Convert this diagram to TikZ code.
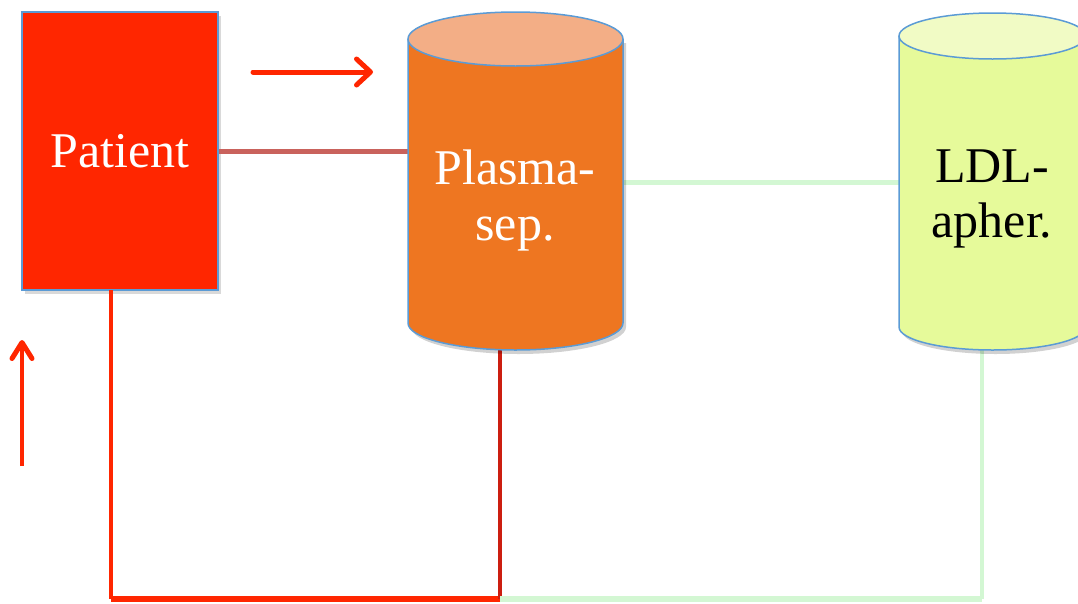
\documentclass[tikz,border=0pt]{standalone}
\usepackage{fontspec}
\setmainfont{Liberation Serif}
\usetikzlibrary{arrows.meta,shadows}
\definecolor{patred}{HTML}{FF2600}
\definecolor{bordblue}{HTML}{5B9BD5}
\definecolor{psbody}{HTML}{EE7621}
\definecolor{pstop}{HTML}{F3AE86}
\definecolor{ldlbody}{HTML}{E6FA9A}
\definecolor{ldltop}{HTML}{F1FBC5}
\definecolor{linkred}{HTML}{C9625C}
\definecolor{linkgreen}{HTML}{D3F7D3}
\definecolor{darkred}{HTML}{CC1E10}
\tikzset{
  bigtext/.style={font=\fontsize{50}{56}\selectfont},
  outline/.style={draw=bordblue, line width=1.5},
  shade/.style={fill=black, opacity=0.18},
  flowarrow/.style={draw=patred, line width=5},
}
\begin{document}
\begin{tikzpicture}[x=1pt,y=-1pt]
\useasboundingbox (0,0) rectangle (1078,603);
\coordinate (psL) at (408,151);
\coordinate (psR) at (623,182);
\coordinate (psB) at (500,349);
\coordinate (ldlL) at (899,182);
\coordinate (ldlB) at (982,349);
\coordinate (patB) at (111,290);
\coordinate (cornerL) at (111,599);
\coordinate (mid) at (500,599);
\coordinate (cornerR) at (982,599);

% Patient box
\node[rectangle, fill=patred, outline, minimum width=196, minimum height=278,
      drop shadow={shadow xshift=3pt, shadow yshift=-4pt, opacity=0.3},
      bigtext, text=white, inner sep=0] (pat) at (120,151) {Patient};

% lines
\draw[linkred, line width=5] (pat.east |- psL) -- (psL);
\draw[linkgreen, line width=5] (psR) -- (ldlL);
\draw[patred, line width=3.5] (patB) -- (cornerL);
\draw[patred, line width=6] (cornerL) -- (mid);
\draw[darkred, line width=4] (psB) -- (mid);
\draw[linkgreen, line width=6] (mid) -- (cornerR);
\draw[linkgreen, line width=4] (cornerR) -- (ldlB);

% Plasma cylinder
\fill[shade] (411,43) -- (411,327) arc[start angle=180, end angle=0, x radius=107.5, y radius=27] -- (626,43) -- cycle;
\fill[psbody] (408,39) -- (408,323) arc[start angle=180, end angle=0, x radius=107.5, y radius=27] -- (623,39) -- cycle;
\draw[outline] (408,39) -- (408,323) arc[start angle=180, end angle=0, x radius=107.5, y radius=27] -- (623,39);
\filldraw[fill=pstop, outline] (515.5,39) ellipse[x radius=107.5, y radius=27];
\node[anchor=base, bigtext, text=white] (ps1) at (515,184) {Plasma-};
\node[anchor=base, bigtext, text=white] (ps2) at (515,240) {sep.};

% LDL cylinder
\fill[shade] (902,40) -- (902,331) arc[start angle=180, end angle=0, x radius=93.5, y radius=23] -- (1089,40) -- cycle;
\fill[ldlbody] (899,36) -- (899,327) arc[start angle=180, end angle=0, x radius=93.5, y radius=23] -- (1086,36) -- cycle;
\draw[outline] (899,36) -- (899,327) arc[start angle=180, end angle=0, x radius=93.5, y radius=23] -- (1086,36);
\filldraw[fill=ldltop, outline] (992.5,36) ellipse[x radius=93.5, y radius=23];
\node[anchor=base, bigtext, text=black] (ldl1) at (992,182) {LDL-};
\node[anchor=base, bigtext, text=black] (ldl2) at (992,237) {apher.};

% flow arrows
\coordinate (a1s) at (253,72);
\coordinate (a1e) at (373,72);
\coordinate (a2s) at (22,466);
\coordinate (a2e) at (22,340);
\draw[flowarrow, line cap=round, -{Straight Barb[length=14pt, width=26pt, line width=5pt, round]}] (a1s) -- (a1e);
\draw[flowarrow, line width=4, -{Straight Barb[length=16pt, width=20pt, line width=5pt, round]}] (a2s) -- (a2e);
\end{tikzpicture}
\end{document}
